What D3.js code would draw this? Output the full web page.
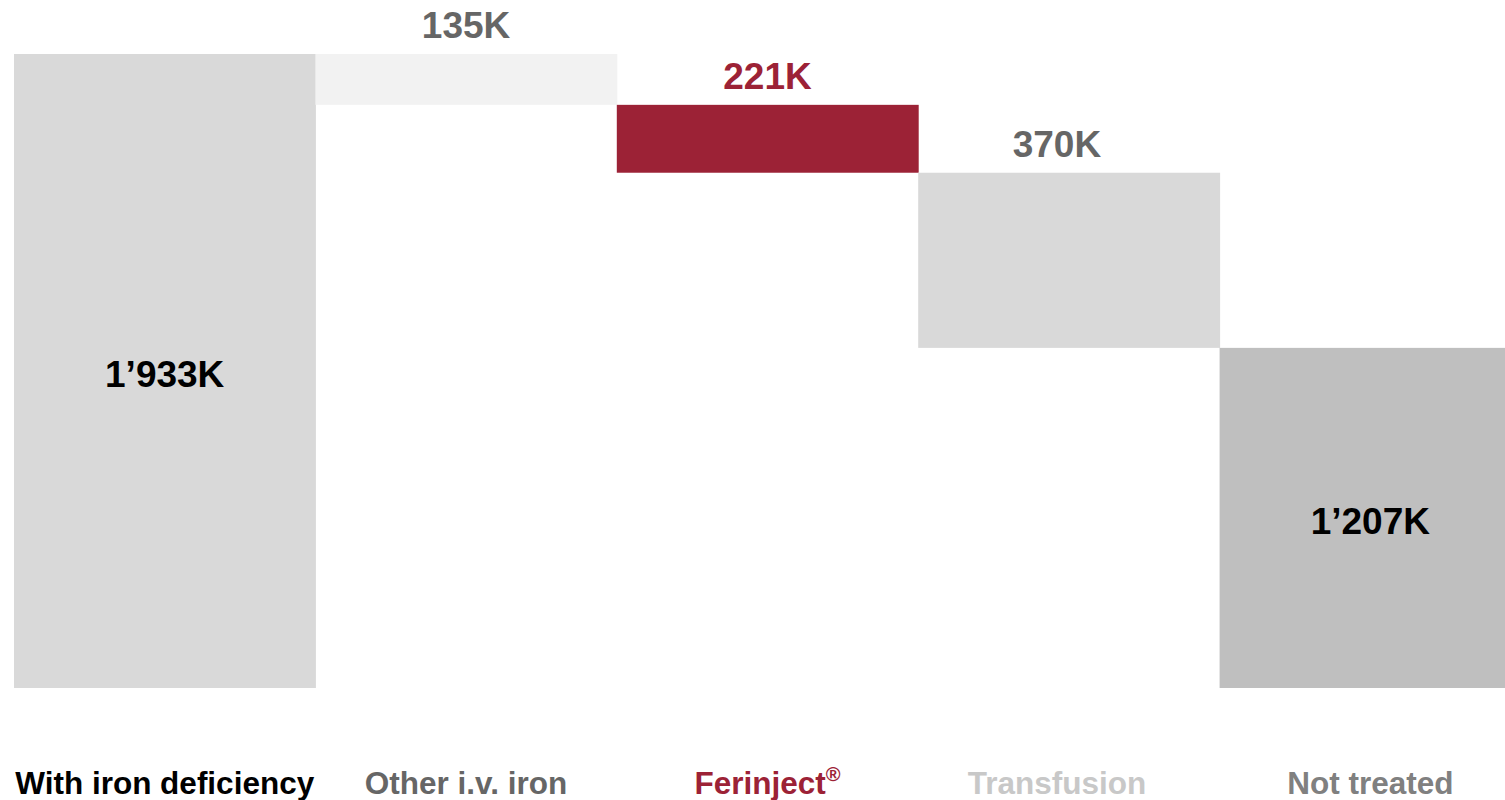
<!DOCTYPE html>
<html>
<head>
<meta charset="utf-8">
<script src="https://cdn.jsdelivr.net/npm/d3@7"></script>
<style>
  body { margin: 0; background: #fff; }
  svg { display: block; font-family: "Liberation Sans", Arial, sans-serif; font-weight: bold; }
</style>
</head>
<body>
<svg width="1505" height="800"></svg>
<script>
const svg = d3.select("svg");
const width = +svg.attr("width");
const height = +svg.attr("height");

// categories and what is printed on the chart
const categories = ["With iron deficiency", "Other i.v. iron", "Ferinject", "Transfusion", "Not treated"];
const valueLabels = ["1\u2019933K", "135K", "221K", "370K", "1\u2019207K"];
// bar sizes as drawn in the picture (K) - the source does not draw them to the printed scale
const barValues = [1933, 155, 207, 534, 1037];
const isTotal = [true, false, false, false, true];

const barColors = ["#d9d9d9", "#f2f2f2", "#9c2236", "#d9d9d9", "#bfbfbf"];
const valueColors = ["#000000", "#666666", "#9c2236", "#666666", "#000000"];
const catColors = ["#000000", "#666666", "#9c2236", "#c8c8c8", "#808080"];

// waterfall: totals from zero, steps go down from the running level
let level = 0;
const data = categories.map((c, i) => {
  let y0, y1;
  if (isTotal[i]) {
    y0 = 0;
    y1 = barValues[i];
    level = barValues[i];
  } else {
    y1 = level;
    y0 = level - barValues[i];
    level = y0;
  }
  return { cat: c, y0, y1, label: valueLabels[i], total: isTotal[i], i };
});

const xScale = d3.scaleBand().domain(categories).range([14, 1521]).padding(0);
const yScale = d3.scaleLinear().domain([0, 1933]).range([688, 54]);

// the transfusion texts sit a little left of the bar centre in the original
const labelX = (d) => xScale(d.cat) + xScale.bandwidth() / 2 + (d.cat === "Transfusion" ? -12 : 0);

const g = svg.append("g");

g.selectAll("rect.bar")
  .data(data)
  .enter()
  .append("rect")
  .attr("class", "bar")
  .attr("x", (d) => xScale(d.cat))
  .attr("width", xScale.bandwidth() + 0.5)
  .attr("y", (d) => yScale(d.y1))
  .attr("height", (d) => yScale(d.y0) - yScale(d.y1))
  .attr("fill", (d) => barColors[d.i]);

// value labels: inside for totals, above for steps
g.selectAll("text.value")
  .data(data)
  .enter()
  .append("text")
  .attr("class", "value")
  .attr("x", labelX)
  .attr("y", (d) => d.total ? (yScale(d.y1) + yScale(d.y0)) / 2 + 16 : yScale(d.y1) - 16)
  .attr("text-anchor", "middle")
  .attr("font-size", 37)
  .attr("fill", (d) => valueColors[d.i])
  .text((d) => d.label);

// category labels along the bottom
const cat = g.selectAll("text.cat")
  .data(data)
  .enter()
  .append("text")
  .attr("class", "cat")
  .attr("x", labelX)
  .attr("y", 794)
  .attr("text-anchor", "middle")
  .attr("font-size", 31.5)
  .attr("fill", (d) => catColors[d.i])
  .text((d) => d.cat);

cat.filter((d) => d.cat === "Ferinject")
  .append("tspan")
  .attr("font-size", 20)
  .attr("dy", -13)
  .text("\u00AE");
</script>
</body>
</html>
